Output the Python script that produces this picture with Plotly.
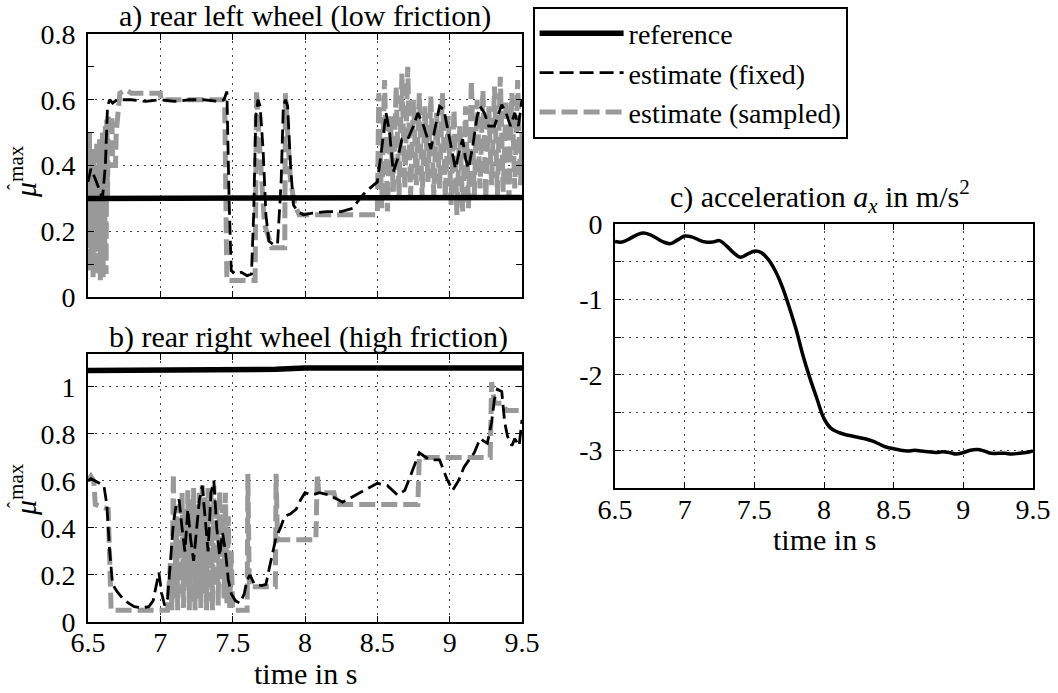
import plotly.graph_objects as go

# ---------------- data ----------------
# panel a) rear left wheel (low friction)
t_a_ref = [6.5, 7.5, 8.0, 9.5]
a_ref = [0.300, 0.300, 0.303, 0.303]

t_a_fix = [6.50, 6.52, 6.55, 6.58, 6.60, 6.62, 6.635, 6.65, 6.67, 6.70, 6.75, 6.80, 6.90, 7.00, 7.10,
           7.20, 7.30, 7.40, 7.44, 7.46, 7.475, 7.49, 7.52, 7.56, 7.60, 7.63, 7.645, 7.66, 7.675, 7.69,
           7.71, 7.73, 7.75, 7.78, 7.81, 7.835, 7.85, 7.865, 7.88, 7.90, 7.92, 7.95, 7.99, 8.05, 8.15,
           8.25, 8.33, 8.38, 8.42, 8.47, 8.50, 8.53, 8.56, 8.585, 8.61, 8.64, 8.67, 8.71, 8.75, 8.78,
           8.82, 8.87, 8.90, 8.93, 8.96, 8.99, 9.02, 9.04, 9.07, 9.09, 9.11, 9.13, 9.16, 9.19, 9.21,
           9.24, 9.27, 9.31, 9.34, 9.36, 9.39, 9.42, 9.45, 9.475, 9.50]
a_fix = [0.35, 0.39, 0.36, 0.32, 0.30, 0.40, 0.58, 0.60, 0.59, 0.60, 0.60, 0.60, 0.595, 0.60, 0.595,
         0.60, 0.60, 0.595, 0.60, 0.625, 0.30, 0.08, 0.07, 0.075, 0.065, 0.07, 0.25, 0.55, 0.60, 0.58,
         0.45, 0.25, 0.17, 0.16, 0.16, 0.35, 0.58, 0.60, 0.58, 0.40, 0.28, 0.26, 0.25, 0.255, 0.26,
         0.26, 0.27, 0.30, 0.32, 0.34, 0.35, 0.45, 0.56, 0.50, 0.38, 0.42, 0.48, 0.48, 0.52, 0.56,
         0.52, 0.45, 0.52, 0.58, 0.57, 0.50, 0.43, 0.39, 0.45, 0.48, 0.42, 0.39, 0.46, 0.55, 0.58,
         0.56, 0.52, 0.52, 0.56, 0.585, 0.56, 0.52, 0.56, 0.52, 0.60]

t_a_samp = [6.500, 6.505, 6.510, 6.515, 6.520, 6.525, 6.530, 6.535, 6.540, 6.545, 6.550, 6.555, 6.560,
            6.565, 6.570, 6.575, 6.580, 6.585, 6.590, 6.595, 6.600, 6.605, 6.610, 6.615, 6.620, 6.625,
            6.630, 6.635, 6.640, 6.655, 6.665, 6.670, 6.690, 6.695, 6.710, 6.720, 6.760, 6.800, 6.900,
            7.000, 7.005, 7.200, 7.440, 7.445, 7.460, 7.655, 7.665, 7.680, 7.700, 7.720, 7.750, 7.770,
            7.860, 7.865, 7.880, 7.900, 7.930, 7.960, 8.200, 8.500,
            8.51, 8.53, 8.55, 8.57, 8.59, 8.61, 8.63, 8.65, 8.67, 8.69, 8.71, 8.73, 8.75, 8.77, 8.79,
            8.81, 8.83, 8.85, 8.87, 8.89, 8.91, 8.93, 8.95, 8.97, 8.99, 9.01, 9.03, 9.05, 9.07, 9.09,
            9.11, 9.13, 9.15, 9.17, 9.19, 9.21, 9.23, 9.25, 9.27, 9.29, 9.31, 9.33, 9.35, 9.37, 9.39,
            9.41, 9.43, 9.45, 9.47, 9.49, 9.50]
a_samp = [0.45, 0.15, 0.50, 0.08, 0.42, 0.12, 0.38, 0.06, 0.45, 0.10, 0.40, 0.20, 0.47,
          0.07, 0.44, 0.15, 0.48, 0.05, 0.46, 0.10, 0.50, 0.06, 0.48, 0.12, 0.52, 0.07,
          0.54, 0.30, 0.55, 0.55, 0.55, 0.40, 0.40, 0.50, 0.60, 0.62, 0.63, 0.62, 0.62,
          0.62, 0.60, 0.60, 0.60, 0.59, 0.05, 0.05, 0.63, 0.50, 0.35, 0.22, 0.18, 0.15,
          0.15, 0.62, 0.50, 0.35, 0.28, 0.25, 0.25, 0.25,
          0.62, 0.27, 0.66, 0.26, 0.55, 0.32, 0.64, 0.30, 0.68, 0.33, 0.70, 0.31, 0.60, 0.34, 0.62,
          0.30, 0.58, 0.35, 0.61, 0.31, 0.56, 0.33, 0.62, 0.30, 0.55, 0.28, 0.57, 0.25, 0.52, 0.26,
          0.58, 0.27, 0.66, 0.31, 0.60, 0.33, 0.63, 0.30, 0.58, 0.34, 0.64, 0.31, 0.67, 0.32, 0.60,
          0.30, 0.62, 0.33, 0.66, 0.34, 0.50]

# panel b) rear right wheel (high friction)
t_b_ref = [6.5, 7.6, 7.8, 8.0, 9.5]
b_ref = [1.070, 1.070, 1.075, 1.080, 1.080]

t_b_fix = [6.50, 6.52, 6.55, 6.58, 6.61, 6.63, 6.65, 6.67, 6.70, 6.74, 6.78, 6.82, 6.87, 6.92, 6.95,
           6.97, 6.99, 7.01, 7.03, 7.05, 7.07, 7.09, 7.11, 7.13, 7.15, 7.17, 7.19, 7.21, 7.23, 7.25,
           7.27, 7.29, 7.31, 7.33, 7.35, 7.37, 7.39, 7.41, 7.43, 7.45, 7.47, 7.49, 7.52, 7.55, 7.58,
           7.60, 7.62, 7.65, 7.70, 7.73, 7.75, 7.78, 7.80, 7.83, 7.86, 7.90, 7.94, 7.97, 8.00, 8.05,
           8.10, 8.17, 8.26, 8.32, 8.38, 8.44, 8.50, 8.57, 8.64, 8.69, 8.74, 8.79, 8.86, 8.93, 8.98,
           9.02, 9.06, 9.10, 9.17, 9.21, 9.26, 9.29, 9.31, 9.33, 9.36, 9.38, 9.40, 9.43, 9.45, 9.48,
           9.50]
b_fix = [0.60, 0.61, 0.60, 0.59, 0.58, 0.50, 0.30, 0.16, 0.13, 0.10, 0.08, 0.065, 0.06, 0.065, 0.09,
         0.15, 0.21, 0.12, 0.07, 0.10, 0.25, 0.42, 0.50, 0.52, 0.40, 0.30, 0.48, 0.35, 0.26, 0.40,
         0.52, 0.58, 0.45, 0.30, 0.55, 0.60, 0.40, 0.28, 0.38, 0.30, 0.18, 0.12, 0.09, 0.08, 0.12,
         0.18, 0.20, 0.16, 0.155, 0.16, 0.22, 0.30, 0.36, 0.40, 0.45, 0.46, 0.48, 0.52, 0.55, 0.54,
         0.55, 0.54, 0.51, 0.53, 0.55, 0.57, 0.59, 0.58, 0.54, 0.56, 0.64, 0.72, 0.69, 0.69, 0.61,
         0.56, 0.60, 0.66, 0.72, 0.78, 0.76, 0.85, 0.95, 0.99, 0.98, 0.85, 0.79, 0.75, 0.78, 0.75,
         0.86]

t_b_samp = [6.50, 6.52, 6.54, 6.55, 6.64, 6.66, 7.05,
            7.07, 7.08, 7.09, 7.10, 7.11, 7.12, 7.13, 7.14, 7.15, 7.16, 7.17, 7.18, 7.19, 7.20, 7.21,
            7.22, 7.23, 7.24, 7.25, 7.26, 7.27, 7.28, 7.29, 7.30, 7.31, 7.32, 7.33, 7.34, 7.35, 7.36,
            7.37, 7.38, 7.39, 7.40, 7.41, 7.42, 7.43, 7.44, 7.45, 7.46, 7.47, 7.48, 7.49, 7.50,
            7.60, 7.605, 7.615, 7.795, 7.80, 7.81, 8.075, 8.085, 8.095, 8.20, 8.22, 8.78, 8.79, 9.28,
            9.29, 9.31, 9.37, 9.39, 9.50]
b_samp = [0.60, 0.62, 0.60, 0.50, 0.48, 0.05, 0.05,
          0.25, 0.05, 0.63, 0.10, 0.45, 0.05, 0.50, 0.12, 0.55, 0.06, 0.48, 0.15, 0.56, 0.05, 0.52,
          0.08, 0.57, 0.05, 0.50, 0.10, 0.55, 0.06, 0.58, 0.12, 0.53, 0.05, 0.57, 0.09, 0.55, 0.05,
          0.58, 0.15, 0.52, 0.07, 0.56, 0.18, 0.50, 0.10, 0.55, 0.08, 0.45, 0.06, 0.30, 0.05,
          0.05, 0.63, 0.15, 0.15, 0.63, 0.35, 0.35, 0.63, 0.55, 0.55, 0.50, 0.50, 0.70, 0.70,
          1.02, 0.93, 0.93, 0.90, 0.90]

# panel c) acceleration a_x in m/s^2
t_c = [6.50, 6.55, 6.60, 6.65, 6.70, 6.75, 6.80, 6.85, 6.90, 6.95, 7.00, 7.05, 7.10, 7.15, 7.20,
       7.25, 7.30, 7.35, 7.40, 7.45, 7.50, 7.55, 7.60, 7.65, 7.70, 7.75, 7.80, 7.85, 7.90, 7.95,
       8.00, 8.05, 8.10, 8.15, 8.20, 8.25, 8.30, 8.35, 8.40, 8.45, 8.50, 8.55, 8.60, 8.65, 8.70,
       8.75, 8.80, 8.85, 8.90, 8.95, 9.00, 9.05, 9.10, 9.15, 9.20, 9.25, 9.30, 9.35, 9.40, 9.45,
       9.50]
acc_c = [-0.23, -0.24, -0.20, -0.15, -0.12, -0.14, -0.19, -0.24, -0.26, -0.21, -0.16, -0.17, -0.21, -0.24, -0.24,
         -0.22, -0.29, -0.38, -0.44, -0.40, -0.36, -0.38, -0.47, -0.62, -0.83, -1.10, -1.40, -1.75, -2.05, -2.32,
         -2.58, -2.71, -2.76, -2.79, -2.81, -2.83, -2.85, -2.88, -2.92, -2.96, -2.98, -3.00, -3.01, -3.00, -3.01,
         -3.02, -3.03, -3.02, -3.03, -3.05, -3.03, -3.00, -2.99, -3.01, -3.04, -3.04, -3.04, -3.05, -3.04, -3.03,
         -3.01]

x_ticks = [6.5, 7, 7.5, 8, 8.5, 9, 9.5]
x_ticktext = ["6.5", "7", "7.5", "8", "8.5", "9", "9.5"]
a_yticks = [0, 0.2, 0.4, 0.6, 0.8]
a_yticktext = ["0", "0.2", "0.4", "0.6", "0.8"]
b_yticks = [0, 0.2, 0.4, 0.6, 0.8, 1.0]
b_yticktext = ["0", "0.2", "0.4", "0.6", "0.8", "1"]
c_yticks = [0, -0.5, -1, -1.5, -2, -2.5, -3, -3.5]
c_yticktext = ["0", "", "-1", "", "-2", "", "-3", ""]

# ---------------- styles ----------------
FONT = "Liberation Serif"
FS = 30      # titles
FT = 28      # tick labels
GRAY = "#999999"
W, H = 1058, 693

def px_x(p):
    return p / W

def px_y(p):
    return 1 - p / H

fig = go.Figure()

def add_panel(xa, ya, ts, samp, tf, fix, tr, ref, show):
    fig.add_trace(go.Scatter(x=ts, y=samp, mode="lines", name="estimate (sampled)",
                             line=dict(color=GRAY, width=5, dash="16px,6px"),
                             xaxis=xa, yaxis=ya, showlegend=show, legendrank=3))
    fig.add_trace(go.Scatter(x=tf, y=fix, mode="lines", name="estimate (fixed)",
                             line=dict(color="black", width=2.8, dash="14px,6px"),
                             xaxis=xa, yaxis=ya, showlegend=show, legendrank=2))
    fig.add_trace(go.Scatter(x=tr, y=ref, mode="lines", name="reference",
                             line=dict(color="black", width=5.5),
                             xaxis=xa, yaxis=ya, showlegend=show, legendrank=1))

add_panel("x", "y", t_a_samp, a_samp, t_a_fix, a_fix, t_a_ref, a_ref, True)
add_panel("x2", "y2", t_b_samp, b_samp, t_b_fix, b_fix, t_b_ref, b_ref, False)
fig.add_trace(go.Scatter(x=t_c, y=acc_c, mode="lines", line=dict(color="black", width=3.5, shape="spline"),
                         xaxis="x3", yaxis="y3", showlegend=False))

axis_common = dict(showline=True, linecolor="black", linewidth=1.6, mirror="ticks",
                   ticks="inside", ticklen=6, tickwidth=1, tickcolor="black",
                   showgrid=True, gridcolor="#444444", gridwidth=1, griddash="1.5px,5.5px",
                   zeroline=False, automargin=False,
                   tickfont=dict(family=FONT, size=FT, color="black"))

xa_dom = [px_x(88), px_x(522)]
xc_dom = [px_x(615), px_x(1033)]

fig.update_layout(
    width=W, height=H, autosize=False,
    margin=dict(l=0, r=0, t=0, b=0, pad=0, autoexpand=False),
    paper_bgcolor="white", plot_bgcolor="white",
    font=dict(family=FONT, size=FS, color="black"),
    xaxis=dict(axis_common, domain=xa_dom, anchor="y", range=[6.5, 9.5],
               tickvals=x_ticks, showticklabels=False),
    yaxis=dict(axis_common, domain=[px_y(297), px_y(34)], anchor="x", range=[0, 0.8],
               tickvals=a_yticks, ticktext=a_yticktext, ticklabelstandoff=5,
               minor=dict(dtick=0.1, tick0=0, ticks="inside", ticklen=6, tickcolor="black", showgrid=False)),
    xaxis2=dict(axis_common, domain=xa_dom, anchor="y2", range=[6.5, 9.5],
                tickvals=x_ticks, ticktext=x_ticktext, ticklabelstandoff=-5),
    yaxis2=dict(axis_common, domain=[px_y(622), px_y(354)], anchor="x2", range=[0, 1.14],
                tickvals=b_yticks, ticktext=b_yticktext, ticklabelstandoff=5),
    xaxis3=dict(axis_common, domain=xc_dom, anchor="y3", range=[6.5, 9.5],
                tickvals=x_ticks, ticktext=x_ticktext, ticklabelstandoff=-4),
    yaxis3=dict(axis_common, domain=[px_y(488), px_y(224)], anchor="x3", range=[-3.5, 0],
                tickvals=c_yticks, ticktext=c_yticktext, ticklabelstandoff=5),
    legend=dict(x=px_x(533), y=px_y(7), xanchor="left", yanchor="top",
                bgcolor="white", bordercolor="black", borderwidth=1.6,
                font=dict(family=FONT, size=28, color="black"),
                itemwidth=84, tracegroupgap=0),
    showlegend=True,
)

ann = [
    dict(text="a) rear left wheel (low friction)", x=px_x(305), y=px_y(16), size=FS),
    dict(text="b) rear right wheel (high friction)", x=px_x(308), y=px_y(337), size=FS),
    dict(text="c) acceleration <i>a</i><sub><i>x</i></sub> in m/s<sup>2</sup>", x=px_x(820), y=px_y(197), size=FS),
    dict(text="time in s", x=px_x(305), y=px_y(673), size=FS),
    dict(text="time in s", x=px_x(824), y=px_y(539), size=FS),
    dict(text="<i>μ</i><sup>max</sup>", x=px_x(23), y=px_y(172), textangle=-90, size=FS),
    dict(text="<i>μ</i><sup>max</sup>", x=px_x(23), y=px_y(490), textangle=-90, size=FS),
    dict(text="ˆ", x=px_x(14), y=px_y(187), textangle=-90, size=18),
    dict(text="ˆ", x=px_x(14), y=px_y(505), textangle=-90, size=18),
]
for a in ann:
    size = a.pop("size")
    fig.add_annotation(xref="paper", yref="paper", showarrow=False,
                       xanchor="center", yanchor="middle",
                       font=dict(family=FONT, size=size, color="black"), **a)

fig.write_html("out.html", config={"displayModeBar": False},
               post_script="document.body.style.margin='0px';document.body.style.overflow='hidden';")
